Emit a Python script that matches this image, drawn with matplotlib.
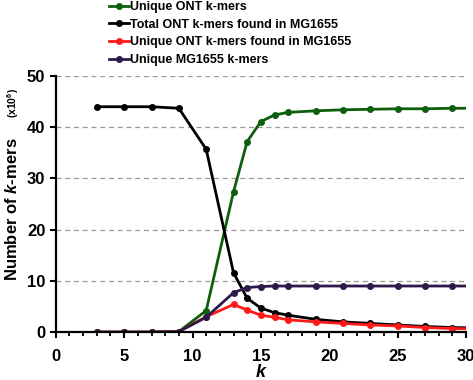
import matplotlib
matplotlib.use("Agg")
import matplotlib.pyplot as plt
from matplotlib.ticker import MultipleLocator

plt.rcParams['font.family'] = ['Liberation Sans', 'DejaVu Sans']
plt.rcParams['mathtext.fontset'] = 'custom'
plt.rcParams['mathtext.rm'] = 'Liberation Sans:bold'
plt.rcParams['mathtext.it'] = 'Liberation Sans:italic:bold'
plt.rcParams['mathtext.bf'] = 'Liberation Sans:bold'

k = [3, 5, 7, 9, 11, 13, 14, 15, 16, 17, 19, 21, 23, 25, 27, 29, 31]
unique_ont = [0.0, 0.0, 0.0, 0.1, 4.2, 27.4, 37.2, 41.1, 42.4, 42.9, 43.2, 43.4, 43.5, 43.6, 43.6, 43.7, 43.7]
total_ont_in_mg = [44.0, 44.0, 44.0, 43.7, 35.7, 11.6, 6.6, 4.7, 3.8, 3.3, 2.5, 2.0, 1.7, 1.4, 1.1, 0.9, 0.8]
unique_ont_in_mg = [0.0, 0.0, 0.0, 0.1, 3.0, 5.4, 4.3, 3.3, 2.9, 2.4, 2.0, 1.7, 1.4, 1.2, 0.9, 0.7, 0.6]
unique_mg = [0.0, 0.0, 0.0, 0.1, 2.9, 7.7, 8.7, 8.9, 9.0, 9.0, 9.0, 9.0, 9.0, 9.0, 9.0, 9.0, 9.0]

labels = ["Unique ONT k-mers", "Total ONT k-mers found in MG1655",
          "Unique ONT k-mers found in MG1655", "Unique MG1655 k-mers"]
colors = ["#0d5e0d", "#000000", "#ff1a1a", "#2b1a4a"]

fig = plt.figure(figsize=(4.73, 3.80), dpi=100)
ax = fig.add_axes([0.118, 0.126, 0.867, 0.674])

series = [unique_ont, total_ont_in_mg, unique_ont_in_mg, unique_mg]
lines = []
for s, c, lab in zip(series, colors, labels):
    ln, = ax.plot(k, s, color=c, lw=2.0, marker='o', ms=4, label=lab, clip_on=True)
    lines.append(ln)

ax.set_xlim(0, 30)
ax.set_ylim(0, 50)
ax.xaxis.set_major_locator(MultipleLocator(5))
ax.xaxis.set_minor_locator(MultipleLocator(1))
ax.yaxis.set_major_locator(MultipleLocator(10))
ax.yaxis.grid(True, linestyle=(0, (4, 3)), color='#999999', lw=0.9)
ax.set_axisbelow(True)
for sp in ['top', 'right']:
    ax.spines[sp].set_visible(False)
for sp in ['left', 'bottom']:
    ax.spines[sp].set_linewidth(1.6)
ax.tick_params(axis='both', which='major', direction='out', length=4, width=1.5,
               labelsize=12)
ax.tick_params(axis='x', which='minor', direction='out', length=3, width=1.3)
ax.tick_params(axis='x', pad=8)
for t in ax.get_xticklabels() + ax.get_yticklabels():
    t.set_fontweight('bold')

ax.set_xlabel("k", fontsize=13, fontweight='bold', fontstyle='italic', labelpad=0)

fig.text(0.026, 0.45, r"Number of $\mathit{k}$-mers", rotation=90, fontsize=12,
         fontweight='bold', ha='center', va='center')
fig.text(0.028, 0.73, r"(x10$^{6}$)", rotation=90, fontsize=7.5,
         fontweight='bold', ha='center', va='center')

fig.legend(handles=lines, labels=labels, loc='upper left', bbox_to_anchor=(0.22, 1.01),
           frameon=False, prop={'weight': 'bold', 'size': 9},
           handlelength=1.6, handletextpad=0.1, labelspacing=0.45, borderaxespad=0)

fig.savefig("out.png", dpi=100)
